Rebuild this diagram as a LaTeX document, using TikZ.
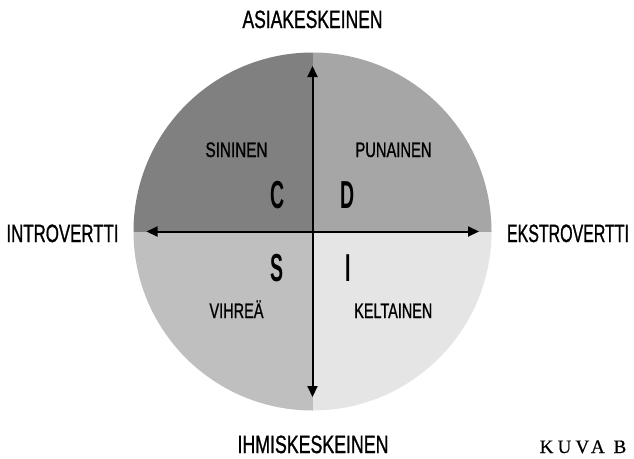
\documentclass[tikz,border=0pt]{standalone}
\usepackage{fontspec}
\usepackage{graphicx}
\usetikzlibrary{arrows.meta}
\newfontfamily\cf[FakeBold=1.2]{Liberation Sans}
\newfontfamily\cbf{Liberation Sans Bold}
\newfontfamily\kf[LetterSpace=22,FakeBold=0.6]{Liberation Serif}
\definecolor{qa}{gray}{0.50}
\definecolor{qb}{gray}{0.65}
\definecolor{qc}{gray}{0.75}
\definecolor{qd}{gray}{0.90}
\newcommand{\fitw}[2]{\resizebox{#1}{\height}{#2}}
\begin{document}
\begin{tikzpicture}[x=1pt,y=-1pt,
  lbl/.style={inner sep=0pt, anchor=base, font=\cf\fontsize{25}{25}\selectfont},
  qlbl/.style={inner sep=0pt, anchor=base, font=\cf\fontsize{21}{21}\selectfont},
  big/.style={inner sep=0pt, anchor=base, font=\cbf\fontsize{39}{39}\selectfont},
  axis/.style={line width=2pt, {Triangle[length=11pt,width=10pt]}-{Triangle[length=11pt,width=10pt]}}]
\useasboundingbox (0,0) rectangle (634,458);
\coordinate (O) at (312.5,231.5);
\begin{scope}
  \clip (O) circle[radius=179pt];
  \fill[qa] (O) rectangle ++(-185,-185);
  \fill[qb] (O) rectangle ++(185,-185);
  \fill[qc] (O) rectangle ++(-185,185);
  \fill[qd] (O) rectangle ++(185,185);
\end{scope}
\coordinate (T) at (312.5,66);
\coordinate (B) at (312.5,397);
\coordinate (L) at (146.5,231.5);
\coordinate (R) at (479,231.5);
\draw[axis] (T) -- (B);
\draw[axis] (L) -- (R);
\node[lbl] (asia) at (312.5,28) {\fitw{140pt}{ASIAKESKEINEN}};
\node[lbl] (intro) at (62.5,242) {\fitw{112pt}{INTROVERTTI}};
\node[lbl] (ekstro) at (568,242) {\fitw{122pt}{EKSTROVERTTI}};
\node[lbl] (ihmis) at (313,453) {\fitw{151pt}{IHMISKESKEINEN}};
\node[qlbl] (sininen) at (236.5,157) {\fitw{62pt}{SININEN}};
\node[qlbl] (punainen) at (393.5,157) {\fitw{76pt}{PUNAINEN}};
\node[qlbl] (vihrea) at (236.5,318) {\fitw{54pt}{VIHREÄ}};
\node[qlbl] (keltainen) at (393.3,318) {\fitw{78pt}{KELTAINEN}};
\node[big] (c) at (278,208) {\scalebox{0.5}[1]{C}};
\node[big] (d) at (348,208) {\scalebox{0.5}[1]{D}};
\node[big] (s) at (277,281) {\scalebox{0.5}[1]{S}};
\node[big] (i) at (348,281) {\scalebox{0.5}[1]{I}};
\node[anchor=base, inner sep=0pt, font=\kf\fontsize{19}{19}\selectfont] (kuva) at (583,453) {KUVA B};
\end{tikzpicture}
\end{document}
